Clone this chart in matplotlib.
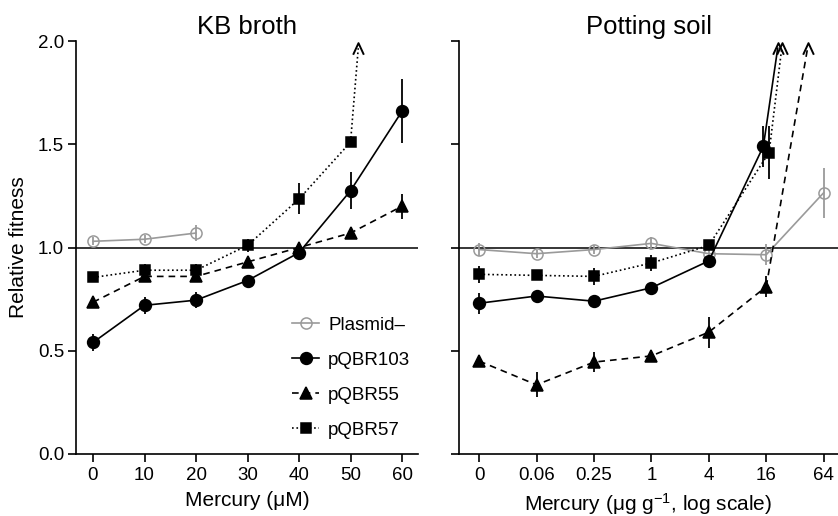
import matplotlib
matplotlib.use('Agg')
import matplotlib.pyplot as plt
from matplotlib.path import Path

plt.rcParams['font.family'] = ['Liberation Sans', 'DejaVu Sans']
plt.rcParams['mathtext.default'] = 'regular'

# KB broth (left panel)
kb_x = [0, 10, 20, 30, 40, 50, 60]
kb_minus = [1.03, 1.04, 1.07]
kb_minus_err = [0.02, 0.02, 0.04]
kb_103 = [0.54, 0.72, 0.745, 0.84, 0.975, 1.275, 1.66]
kb_103_err = [0.04, 0.04, 0.04, 0.02, 0.02, 0.09, 0.155]
kb_55 = [0.735, 0.86, 0.86, 0.93, 1.0, 1.07, 1.20]
kb_55_err = [0.02, 0.02, 0.02, 0.02, 0.02, 0.02, 0.06]
kb_57 = [0.855, 0.89, 0.89, 1.01, 1.235, 1.51]
kb_57_err = [0.02, 0.03, 0.03, 0.03, 0.075, 0.02]
kb_57_arrow = (51.5, 1.965)

# Potting soil (right panel), positions on log2-like categorical scale
soil_labels = ['0', '0.06', '0.25', '1', '4', '16', '64']
soil_x = [0, 1, 2, 3, 4, 5, 6]
soil_minus = [0.99, 0.97, 0.99, 1.02, 0.97, 0.965, 1.265]
soil_minus_err = [0.03, 0.02, 0.02, 0.03, 0.03, 0.05, 0.12]
soil_103_x = [0, 1, 2, 3, 4, 4.95]
soil_103 = [0.73, 0.765, 0.74, 0.805, 0.935, 1.49]
soil_103_err = [0.05, 0.02, 0.03, 0.02, 0.02, 0.10]
soil_103_arrow = (5.2, 1.965)
soil_57_x = [0, 1, 2, 3, 4, 5.05]
soil_57 = [0.87, 0.865, 0.86, 0.925, 1.01, 1.46]
soil_57_err = [0.04, 0.02, 0.04, 0.04, 0.02, 0.13]
soil_57_arrow = (5.27, 1.965)
soil_55_x = [0, 1, 2, 3, 4, 5]
soil_55 = [0.45, 0.335, 0.445, 0.475, 0.59, 0.81]
soil_55_err = [0.02, 0.06, 0.05, 0.03, 0.075, 0.05]
soil_55_arrow = (5.72, 1.965)

gray = '#9a9a9a'
chevron = Path([(-0.6, -0.7), (0, 0.6), (0.6, -0.7)], [Path.MOVETO, Path.LINETO, Path.LINETO])

fig = plt.figure(figsize=(8.38, 5.16), dpi=100)
ax1 = fig.add_axes([76 / 838, 1 - 454 / 516, (418 - 76) / 838, 413 / 516])
ax2 = fig.add_axes([459 / 838, 1 - 454 / 516, (838 - 459) / 838, 413 / 516])

lw = 1.2


def series(ax, x, y, err, marker, ls, color='black', ms=8, mfc=None, label=None):
    ax.errorbar(x, y, yerr=err, fmt='none', ecolor=color, elinewidth=1.3, capsize=0, zorder=2)
    ax.plot(x, y, marker=marker, linestyle=ls, color=color, lw=lw, ms=ms,
            mfc=mfc if mfc else color, mec=color, mew=1.1, label=label, zorder=3)


def arrow(ax, x0, y0, tip, ls):
    ax.plot([x0, tip[0]], [y0, tip[1]], linestyle=ls, color='black', lw=lw, zorder=3)
    ax.plot([tip[0]], [tip[1]], marker=chevron, ms=9, mfc='none', mec='black', mew=1.4,
            linestyle='none', clip_on=False, zorder=4)


# left panel
for ax in (ax1, ax2):
    ax.axhline(1.0, color='black', lw=1.1, zorder=1)
series(ax1, kb_x[:3], kb_minus, kb_minus_err, 'o', '-', color=gray, ms=8, mfc='none', label='Plasmid\u2013')
series(ax1, kb_x, kb_103, kb_103_err, 'o', '-', ms=8.5, label='pQBR103')
series(ax1, kb_x, kb_55, kb_55_err, '^', (0, (4, 3)), ms=9, label='pQBR55')
series(ax1, kb_x[:6], kb_57, kb_57_err, 's', ':', ms=7.5, label='pQBR57')
arrow(ax1, kb_x[5], kb_57[-1], kb_57_arrow, ':')

# right panel
series(ax2, soil_x, soil_minus, soil_minus_err, 'o', '-', color=gray, ms=8, mfc='none')
series(ax2, soil_57_x, soil_57, soil_57_err, 's', ':', ms=7.5)
series(ax2, soil_103_x, soil_103, soil_103_err, 'o', '-', ms=8.5)
series(ax2, soil_55_x, soil_55, soil_55_err, '^', (0, (4, 3)), ms=9)
arrow(ax2, soil_103_x[-1], soil_103[-1], soil_103_arrow, '-')
arrow(ax2, soil_57_x[-1], soil_57[-1], soil_57_arrow, ':')
arrow(ax2, soil_55_x[-1], soil_55[-1], soil_55_arrow, (0, (4, 3)))

for ax in (ax1, ax2):
    ax.set_ylim(0, 2.0)
    ax.set_yticks([0.0, 0.5, 1.0, 1.5, 2.0])
    for s in ('top', 'right'):
        ax.spines[s].set_visible(False)
    for s in ('left', 'bottom'):
        ax.spines[s].set_linewidth(1.2)
    ax.tick_params(width=1.2, length=6, labelsize=13.5, direction='out')
    ax.tick_params(axis='y', pad=2.5)

ax1.set_xlim(-3.3, 63.1)
ax1.set_xticks(kb_x)
ax1.set_yticklabels(['0.0', '0.5', '1.0', '1.5', '2.0'])
ax1.set_ylabel('Relative fitness', fontsize=15, labelpad=7)
ax1.set_xlabel('Mercury (\u03bcM)', fontsize=15, labelpad=5)
ax1.set_title('KB broth', fontsize=18.5, pad=5)

ax2.set_xlim(-0.35, 6.25)
ax2.set_xticks(soil_x)
ax2.set_xticklabels(soil_labels)
ax2.set_yticklabels([])
ax2.set_xlabel('Mercury (\u03bcg g$^{-1}$, log scale)', fontsize=15, labelpad=5)
ax2.set_title('Potting soil', fontsize=18.5, pad=5)

ax1.legend(loc='lower right', bbox_to_anchor=(1.01, 0.01), frameon=False, fontsize=13.5,
           handlelength=1.4, handletextpad=0.5, labelspacing=0.95, borderaxespad=0.2)

fig.savefig('out.png', dpi=100)
